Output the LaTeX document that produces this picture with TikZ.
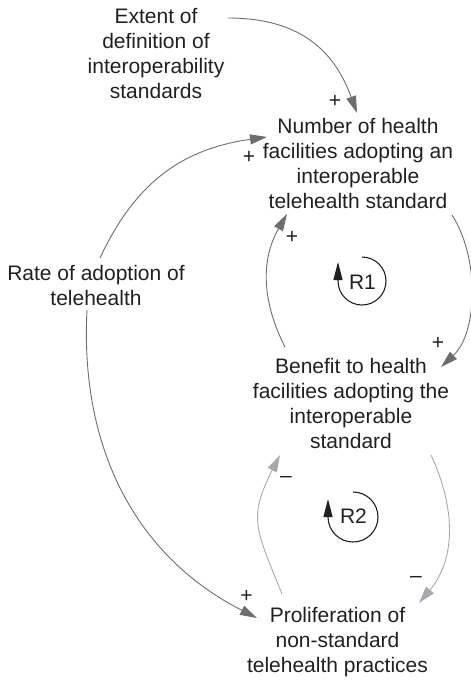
\documentclass[tikz,border=0pt]{standalone}
\usepackage{fontspec}
\setmainfont{Liberation Sans}
\usetikzlibrary{arrows.meta}
\definecolor{txt}{HTML}{231F20}
\definecolor{dk}{HTML}{6D6E71}
\definecolor{lt}{HTML}{A7A9AC}
\begin{document}
\begin{tikzpicture}[x=1pt,y=-1pt,
  var/.style={align=center,inner sep=0pt,outer sep=0pt,text=txt,font=\fontsize{21}{25}\selectfont},
  lbl/.style={inner sep=0pt,outer sep=0pt,text=txt,font=\fontsize{21}{25}\selectfont},
  sgn/.style={inner sep=0pt,outer sep=0pt,text=txt,font=\fontsize{21}{22}\selectfont},
  dlink/.style={draw=dk,line width=0.9pt,-{Triangle[length=17pt,width=10pt]}},
  llink/.style={draw=lt,line width=0.9pt,-{Triangle[length=17pt,width=10pt]}},
  circarrow/.style={draw=txt,line width=1.1pt,-{Triangle[length=18pt,width=9pt]}}]
\useasboundingbox (0,0) rectangle (471,681);

% variables
\node[var] (ext) at (156,53.5) {Extent of\\definition of\\interoperability\\standards};
\node[var] (num) at (358,163.5) {Number of health\\facilities adopting an\\interoperable\\telehealth standard};
\node[var] (rate) at (96,285) {Rate of adoption of\\telehealth};
\node[var] (ben) at (351,403) {Benefit to health\\facilities adopting the\\interoperable\\standard};
\node[var] (pro) at (337.5,641.7) {Proliferation of\\non-standard\\telehealth practices};

% dark links
\draw[dlink] ([shift={(72,-35.5)}]ext.center) to[out=0,in=110,looseness=1.1] ([shift={(-1,-50.5)}]num.center);
\draw[dlink] ([shift={(4,-27)}]rate.center) to[out=65,in=188,looseness=1.05] ([shift={(-91,-26.5)}]num.center);
\draw[dlink] ([shift={(-9,25)}]rate.center) to[out=-93,in=153] ([shift={(-80.5,-23.7)}]pro.center);
\draw[dlink] ([shift={(-66,-56)}]ben.center) to[out=117,in=240] ([shift={(-71,50.5)}]num.center);
\draw[dlink] ([shift={(94,51.5)}]num.center) to[out=-57,in=43,looseness=0.85] ([shift={(90,-36)}]ben.center);

% light links
\draw[llink] ([shift={(80,52)}]ben.center) to[out=-65,in=50] ([shift={(81.5,-38.7)}]pro.center);
\draw[llink] ([shift={(-55.5,-47.7)}]pro.center) to[out=112,in=243,looseness=1.3] ([shift={(-71,52)}]ben.center);

% polarity signs
\node[sgn] (s1) at (335,101) {+};
\node[sgn] (s2) at (249,157) {+};
\node[sgn] (s3) at (292,237) {+};
\node[sgn] (s4) at (438,343) {+};
\node[sgn] (s5) at (246.5,596.5) {+};
\node[sgn] (s6) at (286,479) {\textendash};
\node[sgn] (s7) at (416,579) {\textendash};

% loop markers
\node[lbl] (r1) at (362.5,282.5) {R1};
\draw[circarrow] ([shift={(-0.5,-25.5)}]r1.center) arc[start angle=-90,end angle=180,radius=24] -- ++(0,-19);
\node[lbl] (r2) at (353.5,516.5) {R2};
\draw[circarrow] ([shift={(-0.5,-24.5)}]r2.center) arc[start angle=-90,end angle=180,radius=25] -- ++(0,-18);
\end{tikzpicture}
\end{document}
